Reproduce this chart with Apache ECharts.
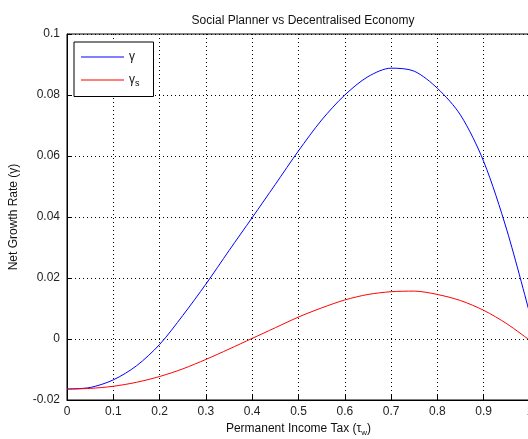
<!DOCTYPE html>
<html>
<head>
<meta charset="utf-8">
<script src="https://cdn.jsdelivr.net/npm/echarts@6/dist/echarts.min.js"></script>
<style>
html,body{margin:0;padding:0;background:#fff;}
#chart{width:528px;height:439px;}
</style>
</head>
<body>
<div id="chart"></div>
<script>
// Tax rate grid and the two net growth rate curves
const taxRates = [0, 0.05, 0.1, 0.15, 0.2, 0.25, 0.3, 0.35, 0.4, 0.45, 0.5, 0.55, 0.6, 0.65, 0.7, 0.75, 0.8, 0.85, 0.9, 0.95, 1.0];
const gammaPlanner = [-0.0164, -0.0159, -0.0134, -0.0088, -0.0018, 0.0077, 0.0180, 0.0290, 0.0398, 0.0507, 0.0617, 0.0718, 0.0800, 0.0860, 0.0888, 0.0878, 0.0822, 0.0734, 0.0582, 0.0357, 0.0080];
const gammaDecentral = [-0.0164, -0.0162, -0.0155, -0.0142, -0.0123, -0.0098, -0.0067, -0.0033, 0.0002, 0.0037, 0.0072, 0.0102, 0.0128, 0.0146, 0.0155, 0.0157, 0.0146, 0.0126, 0.0094, 0.0050, -0.0005];

const xTicks = {min: 0, max: 1, step: 0.1};
const yTicks = {min: -0.02, max: 0.1, step: 0.02};

const font = 'Liberation Sans, Arial, sans-serif';
const chart = echarts.init(document.getElementById('chart'));

function pairs(ys) { return taxRates.map((t, i) => [t, ys[i]]); }

chart.setOption({
  animation: false,
  backgroundColor: '#fff',
  title: {
    text: 'Social Planner vs Decentralised Economy',
    left: 298, top: 10, textAlign: 'center',
    textStyle: {fontFamily: font, fontSize: 12, fontWeight: 'normal', color: '#111'}
  },
  grid: {left: 67, top: 34, width: 463, height: 366, show: true, borderColor: '#000', borderWidth: 1, outerBoundsMode: 'none', containLabel: false},
  legend: {
    left: 74, top: 42, orient: 'vertical',
    icon: 'rect', itemWidth: 43, itemHeight: 1, itemGap: 11,
    padding: [9, 14, 8, 7],
    borderColor: '#000', borderWidth: 1, backgroundColor: '#fff',
    textStyle: {
      fontFamily: font, fontSize: 12, color: '#111',
      rich: {g: {fontFamily: font, fontSize: 12, color: '#111'}, s: {fontFamily: font, fontSize: 9, color: '#111', verticalAlign: 'bottom', padding: [8, 0, 0, 0]}}
    },
    formatter: name => name === 'γs' ? '{g|γ}{s|s}' : '{g|γ}',
    data: ['γ', 'γs']
  },
  xAxis: {
    type: 'value', min: xTicks.min, max: xTicks.max, interval: xTicks.step,
    name: 'Permanent Income Tax (τ{w|w})', nameLocation: 'middle', nameGap: 21,
    nameTextStyle: {fontFamily: font, fontSize: 12, color: '#111', rich: {w: {fontSize: 8, color: '#111', padding: [7, 0, 0, 0]}}},
    axisLine: {show: true, onZero: false, lineStyle: {color: '#000'}},
    axisTick: {show: true, inside: true, length: 5, lineStyle: {color: '#000'}},
    axisLabel: {fontFamily: font, fontSize: 12, color: '#222', margin: 6},
    splitLine: {show: true, lineStyle: {color: '#000', type: [1, 3], width: 1}}
  },
  yAxis: {
    type: 'value', min: yTicks.min, max: yTicks.max, interval: yTicks.step,
    name: 'Net Growth Rate (γ)', nameLocation: 'middle', nameGap: 47,
    nameTextStyle: {fontFamily: font, fontSize: 12, color: '#111'},
    axisLine: {show: true, onZero: false, lineStyle: {color: '#000'}},
    axisTick: {show: true, inside: true, length: 5, lineStyle: {color: '#000'}},
    axisLabel: {fontFamily: font, fontSize: 12, color: '#222', margin: 7},
    splitLine: {show: true, lineStyle: {color: '#000', type: [1, 3], width: 1}}
  },
  series: [
    {name: 'γ', type: 'line', data: pairs(gammaPlanner), smooth: 0.3, smoothConstraint: false, symbol: 'none', lineStyle: {color: '#0000ff', width: 1}, itemStyle: {color: '#0000ff'}},
    {name: 'γs', type: 'line', data: pairs(gammaDecentral), smooth: 0.3, smoothConstraint: false, symbol: 'none', lineStyle: {color: '#ff0000', width: 1}, itemStyle: {color: '#ff0000'}}
  ]
});
</script>
</body>
</html>
